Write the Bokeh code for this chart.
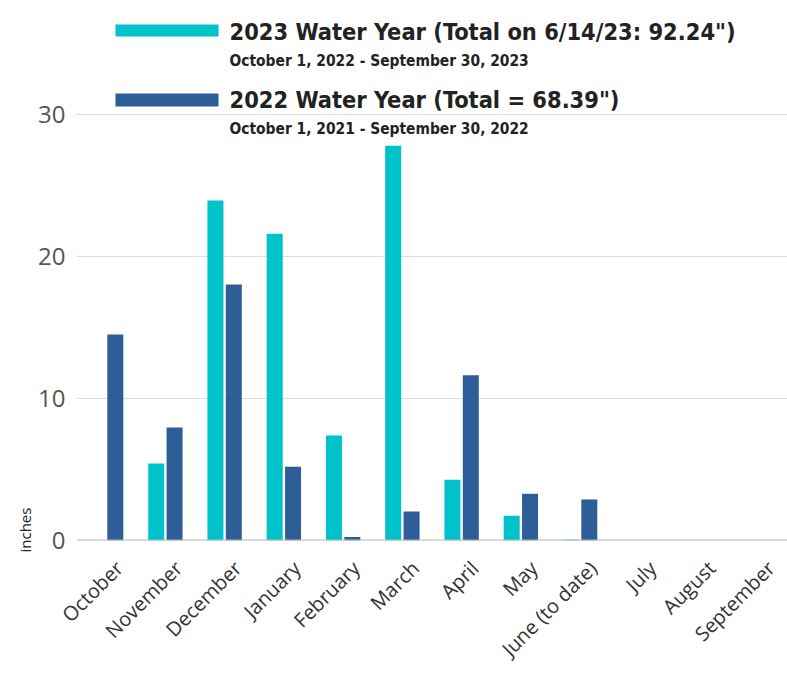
import math
from bokeh.plotting import figure
from bokeh.models import (Label, BoxAnnotation, Span, FixedTicker, Range1d, LinearAxis,
                          Title)
from bokeh.transform import dodge
from bokeh.embed import file_html
from bokeh.resources import INLINE

months = ["October", "November", "December", "January", "February", "March",
          "April", "May", "June (to date)", "July", "August", "September"]
wy2023 = [0, 5.42, 23.94, 21.6, 7.4, 27.8, 4.27, 1.74, 0.05, 0, 0, 0]
wy2022 = [14.5, 7.96, 18.03, 5.2, 0.25, 2.05, 11.64, 3.29, 2.89, 0, 0, 0]
y_ticks = [0, 10, 20, 30]
legend_titles = ['2023 Water Year (Total on 6/14/23: 92.24")',
                 '2022 Water Year (Total = 68.39")']
legend_subtitles = ["October 1, 2022 - September 30, 2023",
                    "October 1, 2021 - September 30, 2022"]
y_label = "inches"

C23 = "#00c2cb"
C22 = "#2e5e98"
LEG_FONT = "DejaVu Sans Condensed, Roboto, sans-serif"

W, H = 787, 674
LEFT, BOTTOM = 76, 134
FRAME_H = H - BOTTOM                      # frame spans from canvas top to baseline
Y_TOP = 30 * FRAME_H / 426.0              # 30" gridline sits 426 px above the baseline

n = len(months)
idx = list(range(n))

p = figure(x_range=Range1d(-0.5, n - 0.5), y_range=(0, Y_TOP), width=W, height=H,
           output_backend="svg", toolbar_location=None, x_axis_location=None,
           min_border_left=LEFT, min_border_right=0, min_border_top=0,
           min_border_bottom=BOTTOM)
p.outline_line_color = None
p.background_fill_color = "white"

src = dict(idx=idx, month=months, a=wy2023, b=wy2022)
p.vbar(x=dodge("idx", -0.155), top="a", width=0.27,
       source=src, fill_color=C23, line_color=None)
p.vbar(x=dodge("idx", 0.155), top="b", width=0.27,
       source=src, fill_color=C22, line_color=None)

p.xgrid.visible = False
p.ygrid.grid_line_color = "#dcdcdc"
p.ygrid.grid_line_width = 1

p.yaxis.ticker = FixedTicker(ticks=y_ticks)
p.yaxis.axis_line_color = None
p.yaxis.major_tick_line_color = None
p.yaxis.minor_tick_line_color = None
p.yaxis.major_label_text_font = "Open Sans"
p.yaxis.major_label_text_font_size = "24px"
p.yaxis.major_label_text_color = "#555555"
p.yaxis.major_label_standoff = 5

# month labels on a slightly shifted copy of the x scale
shift = 0.22
p.extra_x_ranges = {"lab": Range1d(-0.5 - shift, n - 0.5 - shift)}
xax = LinearAxis(x_range_name="lab", ticker=FixedTicker(ticks=idx),
                 major_label_overrides={i: m for i, m in zip(idx, months)})
xax.axis_line_color = None
xax.major_tick_line_color = None
xax.minor_tick_line_color = None
xax.major_label_orientation = math.pi / 4
xax.major_label_text_font = "Open Sans"
xax.major_label_text_font_size = "20px"
xax.major_label_text_color = "#333333"
xax.major_label_standoff = 18
p.add_layout(xax, "below")

p.add_layout(Span(location=0, dimension="width", line_color="#b4b4b4",
                  line_width=2))

# legend (frame-relative screen units, measured up from the baseline)
sw_y = [(504, 516), (434, 447)]
title_y = [509, 441]
sub_y = [480, 412]
for i, col in enumerate([C23, C22]):
    p.add_layout(BoxAnnotation(left=39, right=142, bottom=sw_y[i][0], top=sw_y[i][1],
                               left_units="screen", right_units="screen",
                               bottom_units="screen", top_units="screen",
                               fill_color=col, fill_alpha=1, line_color=None))
    p.add_layout(Label(x=153, y=title_y[i], x_units="screen", y_units="screen",
                       text=legend_titles[i], text_font=LEG_FONT,
                       text_font_style="bold", text_font_size="23.4px",
                       text_color="#222222", text_baseline="middle"))
    p.add_layout(Label(x=153, y=sub_y[i], x_units="screen", y_units="screen",
                       text=legend_subtitles[i], text_font=LEG_FONT,
                       text_font_style="bold", text_font_size="15.4px",
                       text_color="#222222", text_baseline="middle"))

p.add_layout(Title(text=y_label, align="left", offset=-12, standoff=2,
                   text_font="Open Sans", text_font_style="normal",
                   text_font_size="15px", text_color="#222222"), "left")

open("out.html", "w").write(file_html(p, INLINE))
